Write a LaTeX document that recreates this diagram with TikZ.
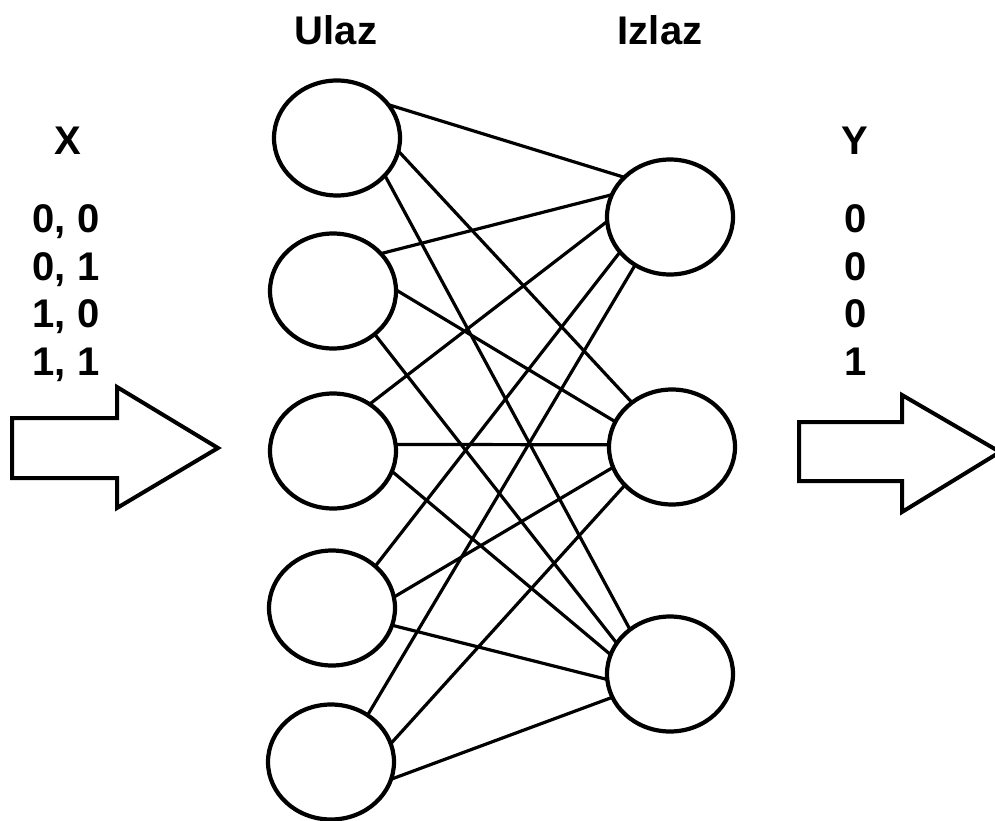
\documentclass[tikz,border=0pt]{standalone}
\usepackage{fontspec}
\setmainfont{Liberation Sans}
\usetikzlibrary{shapes.geometric}
\tikzset{
  neuron/.style={ellipse, draw=black, line width=4.2pt, minimum width=126pt, minimum height=115pt, inner sep=0pt, outer sep=0pt},
  link/.style={line width=3.2pt, black},
  bigarrow/.style={line width=4pt, black, line join=miter},
  lbl/.style={font=\fontsize{40}{46}\selectfont\bfseries, anchor=base, inner sep=0pt}
}
\begin{document}
\begin{tikzpicture}[x=1pt, y=-1pt]
\useasboundingbox (0,0) rectangle (995,821);
% input layer
\node[neuron] (L1) at (337,138) {};
\node[neuron] (L2) at (333,291) {};
\node[neuron] (L3) at (333,451) {};
\node[neuron] (L4) at (332,608) {};
\node[neuron] (L5) at (331,762) {};
% output layer
\node[neuron] (R1) at (670,217) {};
\node[neuron] (R2) at (672,447) {};
\node[neuron] (R3) at (670,674) {};
% connections
\draw[link] (L1.33)  -- (R1.139);
\draw[link] (L1.-12) -- (R2.132);
\draw[link] (L1.-38) -- (R3.132);
\draw[link] (L2.38)  -- (R1.159);
\draw[link] (L2.1)   -- (R2.156);
\draw[link] (L2.-46) -- (R3.150);
\draw[link] (L3.52)  -- (R1.184);
\draw[link] (L3.6)   -- (R2.178);
\draw[link] (L3.-19) -- (R3.162);
\draw[link] (L4.44)  -- (R1.215);
\draw[link] (L4.10)  -- (R2.199);
\draw[link] (L4.-16) -- (R3.185);
\draw[link] (L5.52)  -- (R1.234);
\draw[link] (L5.17)  -- (R2.219);
\draw[link] (L5.-16) -- (R3.202);
% big arrows
\draw[bigarrow] (12,418) -- (117,418) -- (117,387) -- (218,448) -- (117,508) -- (117,478) -- (12,478) -- cycle;
\draw[bigarrow] (799,422) -- (902,422) -- (902,395) -- (1000,452) -- (902,512) -- (902,481) -- (799,481) -- cycle;
% labels
\node[lbl] (ulaz) at (336,45) {Ulaz};
\node[lbl] (izlaz) at (660,45) {Izlaz};
\node[lbl] (xl) at (68,155) {X};
\node[lbl] (yl) at (855,155) {Y};
\node[lbl] (x1) at (66,232) {0, 0};
\node[lbl] (x2) at (66,280) {0, 1};
\node[lbl] (x3) at (66,327) {1, 0};
\node[lbl] (x4) at (66,375) {1, 1};
\node[lbl] (y1) at (856,232) {0};
\node[lbl] (y2) at (856,280) {0};
\node[lbl] (y3) at (856,327) {0};
\node[lbl] (y4) at (856,375) {1};
\end{tikzpicture}
\end{document}
